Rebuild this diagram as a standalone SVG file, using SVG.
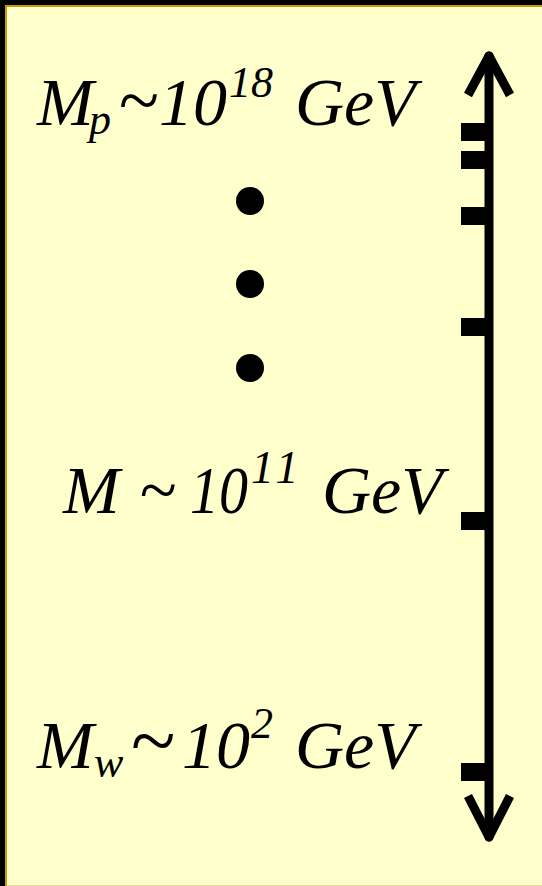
<svg xmlns="http://www.w3.org/2000/svg" width="542" height="886" viewBox="0 0 542 886">
<style>
.t{font-family:"Liberation Serif","Times New Roman",serif;font-style:italic;fill:#000}
.big{font-size:68px}
.sm{font-size:44px}
.tick{fill:#000}
.dot{fill:#000}
</style>
<rect x="0" y="0" width="542" height="886" fill="#000"/>
<rect x="5" y="5" width="537" height="881" fill="#CC9900"/>
<rect x="7" y="7" width="535" height="878" fill="#FFFFCC"/>
<rect x="7" y="885" width="535" height="1" fill="#E8D890"/>
<g id="label-mp">
<text class="t big" x="37" y="125">M</text>
<text class="t sm" x="89" y="134">p</text>
<text class="t" x="118" y="125" font-size="74">~</text>
<text class="t big" x="159" y="125">10</text>
<text class="t sm" x="229" y="97">18</text>
<text class="t big" x="295" y="125">GeV</text>
</g>
<g id="label-m">
<text class="t big" x="63" y="513">M</text>
<text class="t big" x="139" y="513">~</text>
<text class="t big" x="190" y="513" textLength="58" lengthAdjust="spacingAndGlyphs">10</text>
<text class="t" x="251" y="483" font-size="46" letter-spacing="5">11</text>
<text class="t big" x="322" y="513">GeV</text>
</g>
<g id="label-mw">
<text class="t big" x="37" y="768">M</text>
<text class="t sm" x="94" y="777">w</text>
<text class="t" x="130" y="768" font-size="82">~</text>
<text class="t big" x="182" y="768">10</text>
<text class="t sm" x="251" y="738">2</text>
<text class="t big" x="295" y="768">GeV</text>
</g>
<g id="dots">
<circle class="dot" cx="250" cy="201" r="14"/>
<circle class="dot" cx="250" cy="284" r="14"/>
<circle class="dot" cx="250" cy="368" r="14"/>
</g>
<g id="ticks">
<rect class="tick" x="461" y="123" width="28" height="18"/>
<rect class="tick" x="461" y="151" width="28" height="18"/>
<rect class="tick" x="461" y="207" width="28" height="18"/>
<rect class="tick" x="461" y="318" width="28" height="18"/>
<rect class="tick" x="461" y="512" width="28" height="18"/>
<rect class="tick" x="461" y="763" width="28" height="18"/>
</g>
<g id="connectors" fill="none" stroke="#000" stroke-width="9" stroke-linecap="round" stroke-linejoin="round">
<line x1="489" y1="56" x2="489" y2="837"/>
<polyline points="468,95 489,56 510,95" stroke-linecap="butt"/>
<polyline points="468,796 489,837 510,796" stroke-linecap="butt"/>
</g>
</svg>
